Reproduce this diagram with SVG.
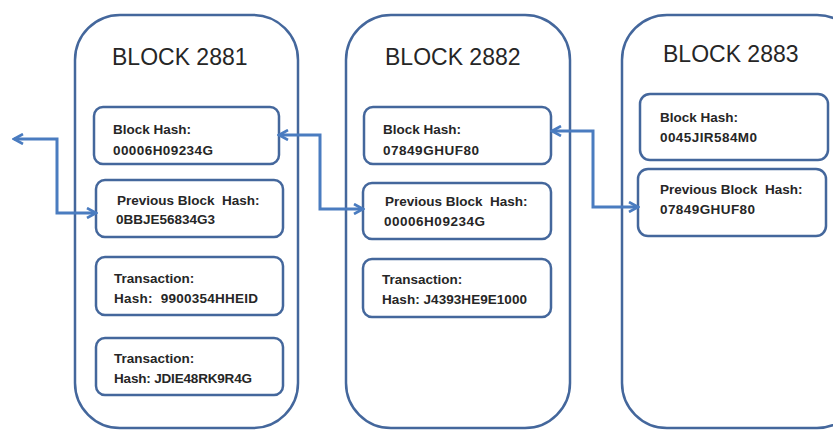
<svg xmlns="http://www.w3.org/2000/svg" width="833" height="430" viewBox="0 0 833 430">
<defs>
<style>
.outer{fill:#fff;stroke:#44679c;stroke-width:2.5}
.inner{fill:#fff;stroke:#44679c;stroke-width:2.5}
.title{font-family:"Liberation Sans",Arial,sans-serif;font-size:23px;fill:#262626}
.lbl{font-family:"Liberation Sans",Arial,sans-serif;font-size:13.5px;font-weight:bold;fill:#262626}
.conn{fill:none;stroke:#4a7cc0;stroke-width:3;stroke-linejoin:miter}
</style>
<marker id="ah" viewBox="0 0 12 12" refX="10" refY="6" markerWidth="12" markerHeight="12" markerUnits="userSpaceOnUse" orient="auto-start-reverse">
<path d="M1,1 L10,6 L1,11" fill="none" stroke="#4a7cc0" stroke-width="2.6"/>
</marker>
</defs>
<rect width="833" height="430" fill="#fff"/>
<g id="block2881">
<rect class="outer" x="75" y="15" width="223" height="413" rx="45" ry="45"/>
<text class="title" x="112" y="65">BLOCK 2881</text>
<g id="b1-hash"><rect class="inner" x="94" y="107" width="185" height="57" rx="9"/>
<text class="lbl" x="113" y="134">Block Hash:</text><text class="lbl" x="113" y="155" textLength="100" lengthAdjust="spacing">00006H09234G</text></g>
<g id="b1-prev"><rect class="inner" x="96" y="180" width="187" height="57" rx="9"/>
<text class="lbl" x="117" y="205" xml:space="preserve">Previous Block  Hash:</text><text class="lbl" x="116" y="224" textLength="99" lengthAdjust="spacing">0BBJE56834G3</text></g>
<g id="b1-tx1"><rect class="inner" x="96" y="257" width="187" height="58" rx="9"/>
<text class="lbl" x="114" y="283">Transaction:</text><text class="lbl" x="114" y="303" xml:space="preserve" textLength="144" lengthAdjust="spacing">Hash:  9900354HHEID</text></g>
<g id="b1-tx2"><rect class="inner" x="96" y="338" width="187" height="57" rx="9"/>
<text class="lbl" x="114" y="363">Transaction:</text><text class="lbl" x="114" y="383" textLength="138" lengthAdjust="spacing">Hash: JDIE48RK9R4G</text></g>
</g>
<g id="block2882">
<rect class="outer" x="346" y="15" width="224" height="413" rx="45" ry="45"/>
<text class="title" x="385" y="65">BLOCK 2882</text>
<g id="b2-hash"><rect class="inner" x="364" y="107" width="187" height="57" rx="9"/>
<text class="lbl" x="383" y="134">Block Hash:</text><text class="lbl" x="383" y="155" textLength="96" lengthAdjust="spacing">07849GHUF80</text></g>
<g id="b2-prev"><rect class="inner" x="363" y="183" width="188" height="56" rx="9"/>
<text class="lbl" x="385" y="206" xml:space="preserve">Previous Block  Hash:</text><text class="lbl" x="384" y="226" textLength="101" lengthAdjust="spacing">00006H09234G</text></g>
<g id="b2-tx"><rect class="inner" x="363" y="259" width="188" height="58" rx="9"/>
<text class="lbl" x="382" y="284">Transaction:</text><text class="lbl" x="382" y="304" textLength="145" lengthAdjust="spacing">Hash: J4393HE9E1000</text></g>
</g>
<g id="block2883">
<rect class="outer" x="622" y="15" width="240" height="413" rx="45" ry="45"/>
<text class="title" x="663" y="62">BLOCK 2883</text>
<g id="b3-hash"><rect class="inner" x="640" y="94" width="188" height="66" rx="10"/>
<text class="lbl" x="660" y="122">Block Hash:</text><text class="lbl" x="660" y="142" textLength="97" lengthAdjust="spacing">0045JIR584M0</text></g>
<g id="b3-prev"><rect class="inner" x="638" y="169" width="188" height="67" rx="10"/>
<text class="lbl" x="660" y="194" xml:space="preserve">Previous Block  Hash:</text><text class="lbl" x="660" y="214" textLength="95" lengthAdjust="spacing">07849GHUF80</text></g>
</g>
<g id="connectors">
<path class="conn" d="M14,139 L57,139 L57,213 L96,213" marker-start="url(#ah)" marker-end="url(#ah)"/>
<path class="conn" d="M279,135 L320,135 L320,209 L363,209" marker-start="url(#ah)" marker-end="url(#ah)"/>
<path class="conn" d="M552,131 L593,131 L593,207 L638,207" marker-start="url(#ah)" marker-end="url(#ah)"/>
</g>
</svg>
